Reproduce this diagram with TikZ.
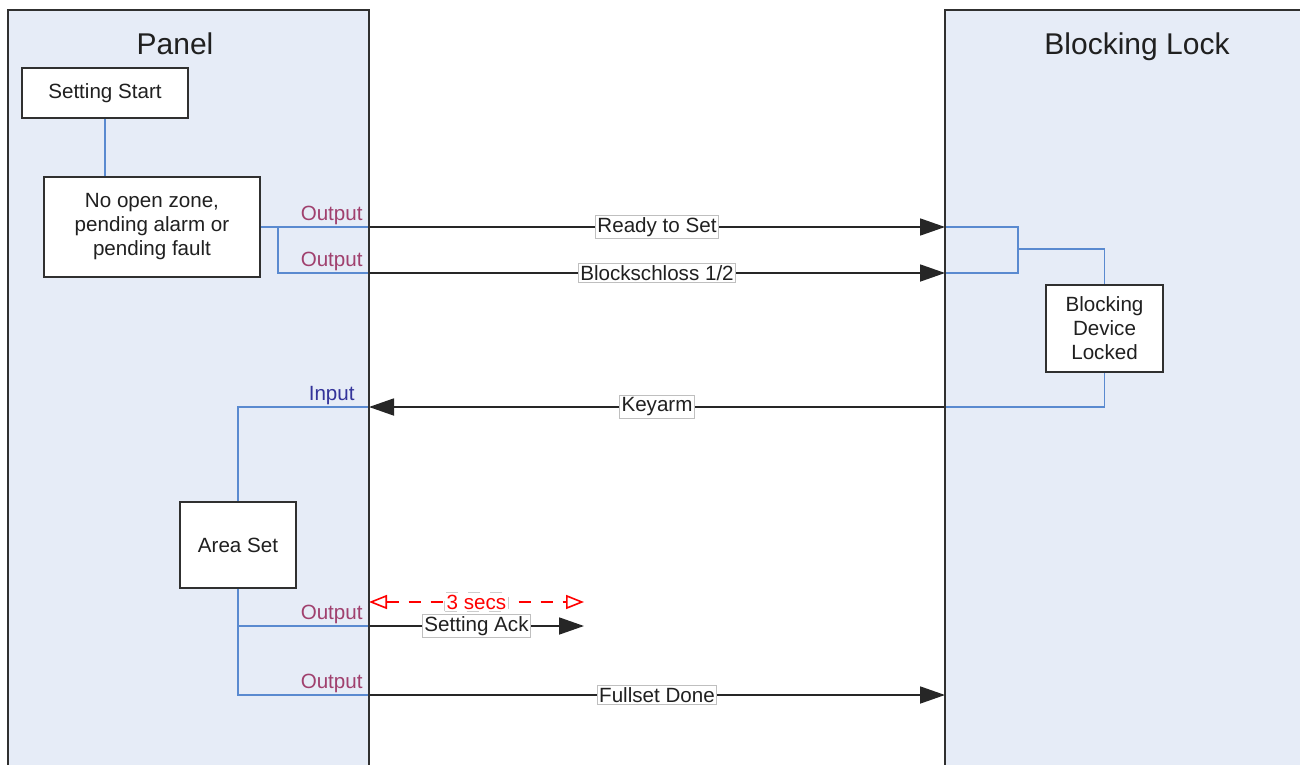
\documentclass[tikz,border=0pt]{standalone}
\usepackage{fontspec}
\setmainfont{Liberation Sans}
\usetikzlibrary{arrows.meta}
\definecolor{laneblue}{HTML}{E6ECF7}
\definecolor{wireblue}{HTML}{5A8AD0}
\definecolor{outcol}{HTML}{A0406E}
\definecolor{incol}{HTML}{33339A}
\definecolor{framegray}{HTML}{303030}
\definecolor{txtgray}{HTML}{202020}
\tikzset{
  lane/.style={draw=framegray,line width=1pt,fill=laneblue},
  procbox/.style={draw=framegray,line width=0.9pt,fill=white,align=center,text=txtgray,
    font=\fontsize{10.3}{12}\selectfont,inner sep=0pt},
  wire/.style={draw=wireblue,line width=0.75pt},
  msg/.style={draw=black!85,line width=0.9pt,-{Triangle[length=12.5pt,width=8.5pt]}},
  msglabel/.style={fill=white,draw=black!25,line width=0.4pt,inner sep=1pt,
    font=\fontsize{10.3}{12}\selectfont,text=txtgray},
  portout/.style={text=outcol,font=\fontsize{10.3}{12}\selectfont,anchor=south east,inner sep=1.5pt},
  portin/.style={text=incol,font=\fontsize{10.3}{12}\selectfont,anchor=south east,inner sep=1.5pt},
  title/.style={font=\fontsize{15}{17}\selectfont,text=txtgray,anchor=base},
}
\begin{document}
\begin{tikzpicture}[x=0.5pt,y=-0.5pt]
\useasboundingbox (0,0) rectangle (1300,765);
\clip (0,0) rectangle (1300,765);
% lanes
\path[lane] (8,10) rectangle (369,780);
\path[lane] (945,10) rectangle (1310,780);
\node[title] (tpanel) at (175,55) {Panel};
\node[title] (tlock) at (1137,55) {Blocking Lock};
% boxes
\node[procbox,minimum width=83pt,minimum height=25pt] (start) at (105,93) {Setting Start};
\node[procbox,minimum width=108pt,minimum height=50pt] (check) at (152,227) {No open zone,\\pending alarm or\\pending fault};
\node[procbox,minimum width=58.5pt,minimum height=43.5pt] (locked) at (1104.5,328.5) {Blocking\\Device\\Locked};
\node[procbox,minimum width=58pt,minimum height=43pt] (areaset) at (238,545) {Area Set};
% ports on lane edges
\coordinate (pRdy) at (369,227);
\coordinate (pBlk) at (369,273);
\coordinate (pKey) at (369,407);
\coordinate (pAck) at (369,626);
\coordinate (pFull) at (369,695);
\coordinate (pSec) at (369,602);
\coordinate (qRdy) at (945,227);
\coordinate (qBlk) at (945,273);
\coordinate (qKey) at (945,407);
\coordinate (qFull) at (945,695);
\coordinate (eAck) at (584,626);
\coordinate (eSec) at (584,602);
% panel wires
\draw[wire] (start.south) -- (check.north -| start.south);
\draw[wire] (check.east) -- (pRdy);
\draw[wire] (278,227) |- (pBlk);
\draw[wire] (pKey) -| (areaset.north);
\draw[wire] (areaset.south) |- (pFull);
\draw[wire] (areaset.south |- pAck) -- (pAck);
% lock wires
\draw[wire] (qRdy) -| (1018,273) -- (qBlk);
\draw[wire] (1018,249) -| (locked.north);
\draw[wire] (locked.south) |- (qKey);
% port labels
\node[portout] (oRdy) at (366,228) {Output};
\node[portout] (oBlk) at (366,274) {Output};
\node[portin] (iKey) at (358,408) {Input};
\node[portout] (oAck) at (366,627) {Output};
\node[portout] (oFull) at (366,696) {Output};
% messages
\draw[msg] (pRdy) -- node[msglabel] {Ready to Set} (qRdy);
\draw[msg] (pBlk) -- node[msglabel] {Blockschloss 1/2} (qBlk);
\draw[msg] (qKey) -- node[msglabel] {Keyarm} (pKey);
\draw[msg] (pAck) -- node[msglabel] {Setting Ack} (eAck);
\draw[msg] (pFull) -- node[msglabel] {Fullset Done} (qFull);
\draw[draw=red,line width=0.8pt,dash pattern=on 6pt off 5pt,
  {Triangle[open,length=9pt,width=7pt]}-{Triangle[open,length=9pt,width=7pt]}]
  (pSec) -- node[msglabel,text=red,draw=black!20] {3 secs} (eSec);
% redraw lane edges over wires
\draw[framegray,line width=1pt] (369,10) -- (369,780);
\draw[framegray,line width=1pt] (945,10) -- (945,780);
\end{tikzpicture}
\end{document}
